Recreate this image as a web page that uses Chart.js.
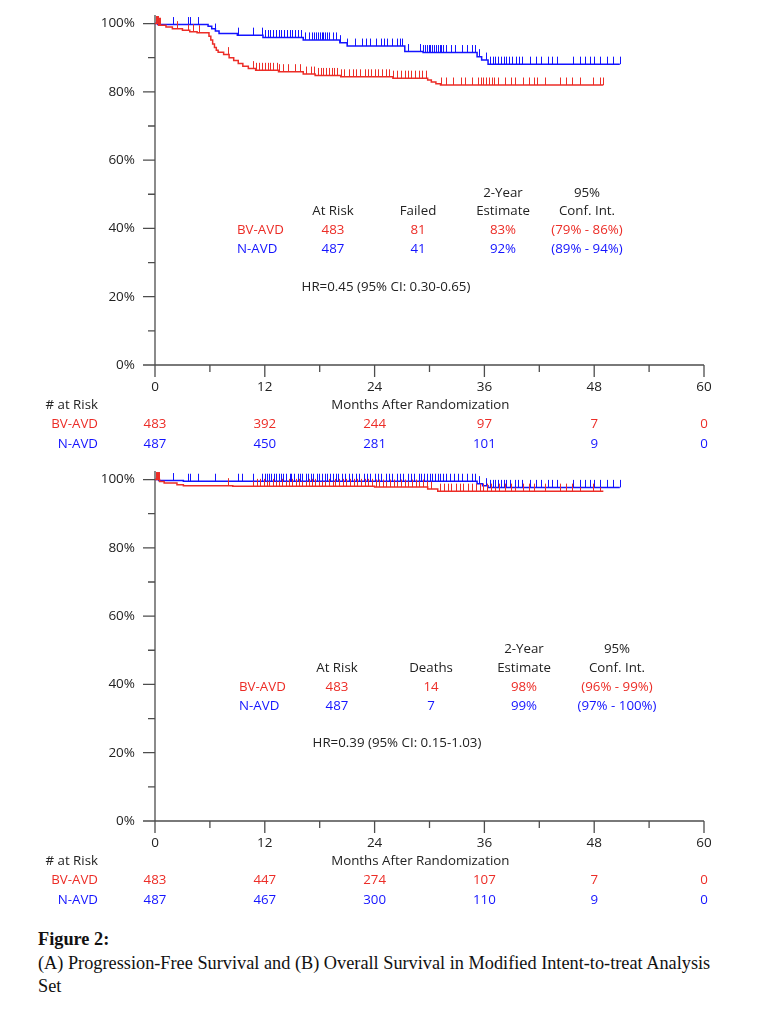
<!DOCTYPE html>
<html>
<head>
<meta charset="utf-8">
<script src="https://cdn.jsdelivr.net/npm/chart.js@4.4.1/dist/chart.umd.min.js"></script>
<style>
  body { margin: 0; background: #fff; }
  #page { position: relative; width: 770px; height: 1014px; overflow: hidden; font-family: 'Open Sans', sans-serif; }
  .panel { position: absolute; left: 0; width: 770px; height: 456px; }
  .txt { position: absolute; font-size: 13.3px; line-height: 1; white-space: nowrap; color: #222; }
  #caption { position: absolute; left: 38px; top: 928px; font-family: 'Liberation Serif', serif; font-size: 18.3px; line-height: 23.5px; color: #111; }
</style>
</head>
<body>
<div id="page">
  <canvas id="pfsChart" class="panel" width="770" height="456" style="top:0px"></canvas>
  <canvas id="osChart" class="panel" width="770" height="456" style="top:456px"></canvas>
  <div id="caption"><b>Figure 2:</b><br>(A) Progression-Free Survival and (B) Overall Survival in Modified Intent-to-treat Analysis<br>Set</div>
</div>
<script>
const RED  = '#ec2d27';
const BLUE = '#1414ff';

// axis ticks (months / percent)
const xMajor = [0, 12, 24, 36, 48, 60];
const xMinor = [6, 18, 30, 42, 54];
const yMajor = [0, 20, 40, 60, 80, 100];
const yMinor = [10, 30, 50, 70, 90];

// ---- (A) progression-free survival: step times (months) and survival (%)
const pfsTimesBV = [0, 0.4, 1.2, 1.9, 3.0, 3.8, 4.6, 5.9, 6.1, 6.3, 6.5, 6.7, 6.9, 7.5, 8.1, 8.6, 9.1, 9.6, 10.2, 11.0, 13.5, 16.2, 17.5, 20.3, 26.0, 29.8, 30.2, 30.7, 31.2, 49.0];
const pfsSurvBV  = [100, 99.5, 99.0, 98.5, 98.0, 97.6, 97.3, 96.3, 95.2, 94.0, 93.0, 92.2, 91.6, 90.9, 90.0, 89.2, 88.3, 87.5, 86.8, 86.3, 85.9, 85.2, 84.8, 84.4, 84.0, 83.5, 82.9, 82.4, 82.0, 82.0];
const pfsTimesN  = [0, 0.3, 5.8, 6.2, 6.6, 7.0, 9.0, 11.8, 16.2, 20.2, 21.0, 27.3, 29.3, 35.2, 35.7, 36.4, 50.8];
const pfsSurvN   = [100, 99.7, 99.2, 98.5, 97.8, 97.1, 96.6, 95.9, 95.2, 94.4, 93.4, 91.8, 91.5, 90.3, 89.3, 88.1, 88.1];

const pfsCensorBV = [0.1, 0.2, 0.3, 0.4, 0.5, 2.4, 3.6, 4.1, 4.8, 8.0, 10.7, 11.0, 11.4, 11.7, 12.0, 12.3, 12.6, 12.9, 13.3, 13.6, 14.0, 14.5, 15.3, 15.8, 16.5, 17.0, 17.4, 17.8, 18.1, 18.4, 18.7, 19.0, 19.3, 19.6, 19.9, 20.3, 20.7, 21.2, 21.6, 22.0, 22.4, 22.9, 23.3, 23.6, 24.0, 24.4, 24.8, 25.2, 25.6, 26.0, 26.4, 26.9, 27.3, 27.6, 28.0, 28.4, 28.8, 29.2, 29.6, 31.3, 31.8, 32.6, 33.4, 33.9, 34.6, 35.3, 35.6, 35.9, 36.2, 36.5, 36.8, 37.1, 37.5, 38.2, 38.9, 39.3, 40.2, 40.9, 41.4, 41.8, 42.6, 44.3, 44.9, 45.6, 46.4, 47.9, 48.6, 49.0];
const pfsCensorN  = [2.0, 3.6, 3.8, 4.7, 6.6, 9.1, 10.7, 11.7, 12.0, 12.3, 12.6, 12.9, 13.2, 13.5, 13.8, 14.1, 14.4, 14.7, 15.0, 15.3, 15.6, 16.0, 16.4, 16.8, 17.2, 17.4, 17.6, 17.8, 18.0, 18.2, 18.4, 18.6, 18.8, 19.0, 19.4, 19.8, 20.2, 21.0, 21.9, 22.6, 23.1, 23.5, 24.2, 24.7, 25.0, 25.4, 25.9, 26.4, 26.8, 27.0, 27.7, 29.0, 29.3, 29.5, 29.7, 29.9, 30.1, 30.3, 30.5, 30.7, 30.9, 31.1, 31.3, 31.5, 31.8, 32.3, 32.8, 33.6, 34.1, 34.6, 35.0, 35.4, 36.2, 36.6, 36.9, 37.2, 37.5, 37.8, 38.1, 38.4, 38.7, 39.0, 39.4, 39.8, 40.1, 41.0, 41.6, 42.2, 42.9, 43.4, 43.9, 45.7, 46.4, 47.0, 47.5, 48.0, 48.6, 49.4, 50.1, 50.8];

// ---- (B) overall survival
const osTimesBV = [0, 0.5, 1.0, 2.4, 3.1, 8.5, 24.0, 29.8, 30.9, 49.0];
const osSurvBV  = [100, 99.4, 99.0, 98.5, 98.2, 98.0, 97.8, 97.2, 96.6, 96.6];
const osTimesN  = [0, 0.4, 3.1, 35.2, 35.8, 36.4, 50.8];
const osSurvN   = [100, 99.7, 99.5, 98.8, 98.2, 97.7, 97.7];

const osCensorBV = [0.1, 0.2, 0.3, 0.4, 8.0, 10.7, 11.1, 11.5, 11.9, 12.2, 12.5, 12.9, 13.2, 13.5, 13.9, 14.3, 14.6, 15.0, 15.4, 15.7, 16.1, 16.5, 16.8, 17.2, 17.5, 17.9, 18.3, 18.6, 19.0, 19.4, 19.7, 20.1, 20.5, 20.9, 21.3, 21.7, 22.1, 22.5, 22.9, 23.3, 23.7, 24.1, 24.5, 24.9, 25.3, 25.7, 26.1, 26.5, 26.9, 27.3, 27.7, 28.1, 28.5, 28.9, 29.3, 29.7, 30.2, 31.2, 31.6, 32.0, 32.4, 32.9, 33.3, 33.7, 34.2, 34.6, 35.1, 35.5, 35.9, 36.3, 36.7, 37.2, 37.6, 38.2, 38.9, 39.3, 40.2, 40.9, 41.4, 42.6, 44.3, 44.9, 45.6, 46.4, 47.9, 48.6];
const osCensorN  = [2.0, 3.6, 3.8, 4.7, 6.6, 9.1, 9.5, 10.7, 11.7, 12.0, 12.2, 12.5, 12.7, 13.0, 13.2, 13.5, 13.8, 14.0, 14.3, 14.7, 14.9, 15.2, 15.6, 15.8, 16.1, 16.5, 16.7, 17.0, 17.3, 17.7, 17.9, 18.2, 18.6, 18.8, 19.1, 19.4, 19.8, 20.0, 20.4, 20.8, 21.2, 21.5, 22.0, 22.3, 22.8, 23.2, 23.5, 24.0, 24.4, 24.7, 25.2, 25.6, 25.9, 26.4, 26.8, 27.1, 27.6, 28.0, 28.3, 28.8, 29.1, 29.4, 29.7, 30.0, 30.3, 30.6, 30.9, 31.2, 31.5, 31.8, 32.2, 32.7, 33.1, 33.6, 34.1, 34.6, 35.0, 35.4, 36.2, 36.6, 36.9, 37.2, 37.5, 37.8, 38.1, 38.4, 38.8, 39.3, 39.7, 40.1, 41.0, 41.6, 42.2, 42.9, 43.4, 43.9, 45.7, 46.4, 47.0, 47.5, 48.0, 48.6, 49.4, 50.1, 50.8];

// ---- number at risk
const riskMonths = [0, 12, 24, 36, 48, 60];
const pfsRiskBV = [483, 392, 244, 97, 7, 0];
const pfsRiskN  = [487, 450, 281, 101, 9, 0];
const osRiskBV  = [483, 447, 274, 107, 7, 0];
const osRiskN   = [487, 467, 300, 110, 9, 0];

Chart.defaults.font.family = "'Open Sans', sans-serif";
Chart.defaults.color = '#222';

function stepAt(times, surv, t) {
    let s = surv[0];
    for (let i = 0; i < times.length; i++) {
        if (times[i] <= t) s = surv[i];
        else break;
    }
    return s;
}

// axes lines + major/minor ticks, drawn through the scales
const kmAxes = {
    id: 'kmAxes',
    beforeDatasetsDraw(chart) {
        const { ctx, scales: { x, y } } = chart;
        const x0 = x.getPixelForValue(0), x1 = x.getPixelForValue(60);
        const y0 = y.getPixelForValue(0), yTop = chart.chartArea.top;
        ctx.save();
        ctx.strokeStyle = '#4d4d4d';
        ctx.lineWidth = 1.3;
        ctx.beginPath();
        ctx.moveTo(x0, yTop); ctx.lineTo(x0, y0 + 12);
        ctx.moveTo(x0 - 12, y0); ctx.lineTo(x1, y0);
        yMajor.forEach(v => { const p = y.getPixelForValue(v); ctx.moveTo(x0 - 12, p); ctx.lineTo(x0, p); });
        yMinor.forEach(v => { const p = y.getPixelForValue(v); ctx.moveTo(x0 - 7, p); ctx.lineTo(x0, p); });
        xMajor.forEach(v => { const p = x.getPixelForValue(v); ctx.moveTo(p, y0); ctx.lineTo(p, y0 + 12); });
        xMinor.forEach(v => { const p = x.getPixelForValue(v); ctx.moveTo(p, y0); ctx.lineTo(p, y0 + 7); });
        ctx.stroke();
        ctx.restore();
    }
};

// censoring marks: short vertical ticks standing on the curve
const censorMarks = {
    id: 'censorMarks',
    afterDatasetsDraw(chart) {
        const { ctx, scales: { x, y } } = chart;
        ctx.save();
        ctx.lineWidth = 1;
        chart.data.datasets.forEach(ds => {
            ctx.strokeStyle = ds.borderColor;
            ctx.beginPath();
            ds.censor.forEach(t => {
                const px = Math.round(x.getPixelForValue(t)) + 0.5;
                const py = y.getPixelForValue(stepAt(ds.times, ds.surv, t));
                ctx.moveTo(px, py);
                ctx.lineTo(px, py - 7.5);
            });
            ctx.stroke();
        });
        ctx.restore();
    }
};

function kmDataset(times, surv, censor, color) {
    return {
        data: times.map((t, i) => ({ x: t, y: surv[i] })),
        times: times, surv: surv, censor: censor,
        borderColor: color,
        borderWidth: 1.5,
        stepped: true,
        pointRadius: 0,
        fill: false
    };
}

function makeChart(id, datasets) {
    return new Chart(document.getElementById(id), {
        type: 'line',
        data: { datasets: datasets },
        options: {
            responsive: false,
            animation: false,
            layout: { padding: { top: 15, right: 66, left: 0, bottom: 0 } },
            plugins: { legend: { display: false }, tooltip: { enabled: false } },
            scales: {
                x: {
                    type: 'linear', min: 0, max: 60,
                    afterBuildTicks: s => { s.ticks = xMajor.map(v => ({ value: v })); },
                    ticks: { padding: 14, font: { size: 13.5 }, color: '#222' },
                    grid: { display: false, drawTicks: false },
                    border: { display: false },
                    afterFit: s => { s.height = 91; s.paddingLeft = 0; s.paddingRight = 0; }
                },
                y: {
                    type: 'linear', min: 0, max: 102.5,
                    afterBuildTicks: s => { s.ticks = yMajor.map(v => ({ value: v })); },
                    ticks: { padding: 20, font: { size: 13.5 }, color: '#222', callback: v => v + '%' },
                    grid: { display: false, drawTicks: false },
                    border: { display: false },
                    afterFit: s => { s.width = 155; s.paddingTop = 0; s.paddingBottom = 0; }
                }
            }
        },
        plugins: [kmAxes, censorMarks]
    });
}

const page = document.getElementById('page');
function addText(text, x, y, align, color) {
    const el = document.createElement('div');
    el.className = 'txt';
    el.textContent = text;
    el.style.left = x + 'px';
    el.style.top = y + 'px';
    if (color) el.style.color = color;
    const dx = align === 'left' ? '0' : align === 'right' ? '-100%' : '-50%';
    el.style.transform = 'translate(' + dx + ',-50%)';
    page.appendChild(el);
}

function addRiskTable(chart, offsetY, riskBV, riskN) {
    const xs = chart.scales.x;
    addText('Months After Randomization', xs.getPixelForValue(29), offsetY + 405, 'center');
    addText('# at Risk', 98, offsetY + 405, 'right');
    addText('BV-AVD', 98, offsetY + 424, 'right', RED);
    addText('N-AVD', 98, offsetY + 444, 'right', BLUE);
    riskMonths.forEach((m, i) => {
        const px = xs.getPixelForValue(m);
        addText(String(riskBV[i]), px, offsetY + 424, 'center', RED);
        addText(String(riskN[i]), px, offsetY + 444, 'center', BLUE);
    });
}

function addSummary(cols, rowsY, eventLabel, bv, n, hr, hrX, hrY) {
    addText('2-Year', cols[2], rowsY[0], 'center');
    addText('95%', cols[3], rowsY[0], 'center');
    addText('At Risk', cols[0], rowsY[1], 'center');
    addText(eventLabel, cols[1], rowsY[1], 'center');
    addText('Estimate', cols[2], rowsY[1], 'center');
    addText('Conf. Int.', cols[3], rowsY[1], 'center');
    addText('BV-AVD', cols[4], rowsY[2], 'left', RED);
    addText('N-AVD', cols[4], rowsY[3], 'left', BLUE);
    bv.forEach((v, i) => addText(v, cols[i], rowsY[2], 'center', RED));
    n.forEach((v, i) => addText(v, cols[i], rowsY[3], 'center', BLUE));
    addText(hr, hrX, hrY, 'center');
}

const pfsChart = makeChart('pfsChart', [
    kmDataset(pfsTimesBV, pfsSurvBV, pfsCensorBV, RED),
    kmDataset(pfsTimesN, pfsSurvN, pfsCensorN, BLUE)
]);
const osChart = makeChart('osChart', [
    kmDataset(osTimesBV, osSurvBV, osCensorBV, RED),
    kmDataset(osTimesN, osSurvN, osCensorN, BLUE)
]);

addRiskTable(pfsChart, 0, pfsRiskBV, pfsRiskN);
addRiskTable(osChart, 456, osRiskBV, osRiskN);

addSummary([333, 418, 503, 587, 237], [192.5, 211, 230, 248.5], 'Failed',
    ['483', '81', '83%', '(79% - 86%)'], ['487', '41', '92%', '(89% - 94%)'],
    'HR=0.45 (95% CI: 0.30-0.65)', 386, 286.5);
addSummary([337, 431, 524, 617, 239], [649, 668, 687, 706], 'Deaths',
    ['483', '14', '98%', '(96% - 99%)'], ['487', '7', '99%', '(97% - 100%)'],
    'HR=0.39 (95% CI: 0.15-1.03)', 397, 742.5);
</script>
</body>
</html>
